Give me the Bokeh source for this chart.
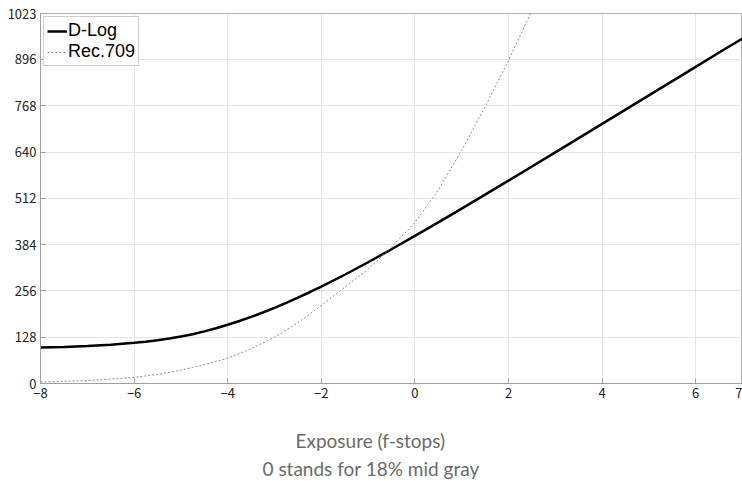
from bokeh.plotting import figure
from bokeh.models import Range1d, FixedTicker, Legend, LegendItem, Title
from bokeh.embed import file_html
from bokeh.resources import INLINE

# ---- data ----
stops = [-8, -7.5, -7, -6.5, -6, -5.75, -5.5, -5.25, -5, -4.75, -4.5, -4.25, -4,
         -3.75, -3.5, -3.25, -3, -2.75, -2.5, -2.25, -2, -1.5,
         -1, -0.5, 0, 0.5, 1, 1.5, 2, 2.5, 3, 3.5, 4, 4.5, 5, 5.5, 6, 6.5, 7]
dlog = [99.4, 101.2, 103.7, 107.3, 112.4, 115.7, 119.5, 124.2, 129.7, 136.3, 144.1, 152.8, 162.4,
        172.9, 184.2, 196.3, 209.2, 222.9, 237.3, 252.3, 267.9, 300.7,
        335.2, 371.1, 408.0, 445.5, 483.7, 522.2, 561.0, 600.0, 639.2, 678.5, 717.8, 757.2,
        796.6, 836.1, 875.6, 915.1, 954.0]

rec_stops = [-8, -7.5, -7, -6.5, -6, -5.5, -5, -4.5, -4, -3.5, -3, -2.5, -2, -1.5,
             -1, -0.5, 0, 0.5, 1, 1.5, 2, 2.47]
rec709 = [4, 6, 8, 12, 17, 25, 37, 52, 70, 96, 128, 168, 216, 266,
          316, 377, 445, 535, 645, 765, 893, 1023]

x_ticks = [-8, -6, -4, -2, 0, 2, 4, 6, 7]
y_ticks = [0, 128, 256, 384, 512, 640, 768, 896, 1023]
series_names = ["D-Log", "Rec.709"]
xlabel_lines = ["Exposure (f-stops)", "0 stands for 18% mid gray"]

W, H = 742, 481
p = figure(width=W, height=H, output_backend="svg", toolbar_location=None,
           x_range=Range1d(-8, 7), y_range=Range1d(0, 1023))
p.min_border_top = 13
p.min_border_right = 0
p.min_border_left = 40
p.min_border_bottom = 98
p.background_fill_color = "white"
p.border_fill_color = "white"
p.outline_line_color = "#b0b0b0"
p.outline_line_width = 1

for ax in (p.xaxis[0], p.yaxis[0]):
    ax.axis_line_color = "#a0a0a0"
    ax.major_tick_line_color = "#a0a0a0"
    ax.major_tick_in = 5
    ax.major_tick_out = 0
    ax.minor_tick_line_color = None
    ax.major_label_text_font = "Noto Sans CJK JP"
    ax.major_label_text_font_size = "13px"
    ax.major_label_text_color = "#222222"
    ax.major_label_standoff = 4

p.xaxis[0].ticker = FixedTicker(ticks=x_ticks)
p.yaxis[0].ticker = FixedTicker(ticks=y_ticks)
p.xaxis[0].major_label_overrides = {-8: "\u22128", -6: "\u22126", -4: "\u22124", -2: "\u22122"}
# invisible spacer label to push the two caption lines down
p.xaxis[0].axis_label = " "
p.xaxis[0].axis_label_text_font_size = "2px"
p.xaxis[0].axis_label_standoff = 19

p.xgrid.ticker = FixedTicker(ticks=x_ticks[:-1])
p.ygrid.ticker = FixedTicker(ticks=y_ticks)
p.xgrid.grid_line_color = "#e4e4e4"
p.ygrid.grid_line_color = "#e4e4e4"

r1 = p.line(stops, dlog, line_color="black", line_width=2.5)
r2 = p.line(rec_stops, rec709, line_color="#8a8a8a", line_width=1, line_dash="2 2")

legend = Legend(items=[LegendItem(label=series_names[0], renderers=[r1]),
                       LegendItem(label=series_names[1], renderers=[r2])],
                location="top_left")
legend.margin = 3
legend.padding = 3
legend.spacing = 0
legend.glyph_width = 20
legend.glyph_height = 20
legend.label_height = 20
legend.label_standoff = 1
legend.label_text_font = "Liberation Sans"
legend.label_text_font_size = "18px"
legend.label_text_color = "black"
legend.border_line_color = "#9a9a9a"
legend.border_line_width = 1
legend.background_fill_alpha = 1
p.add_layout(legend)

t1 = Title(text=xlabel_lines[0], align="left", offset=255,
           text_font="Lato", text_font_size="19px", text_font_style="normal",
           text_color="#6a6a6a", standoff=4)
t2 = Title(text=xlabel_lines[1], align="left", offset=222,
           text_font="Lato", text_font_size="19px", text_font_style="normal",
           text_color="#6a6a6a", standoff=3)
p.add_layout(t1, "below")
p.add_layout(t2, "below")

open("out.html", "w").write(file_html(p, INLINE))
